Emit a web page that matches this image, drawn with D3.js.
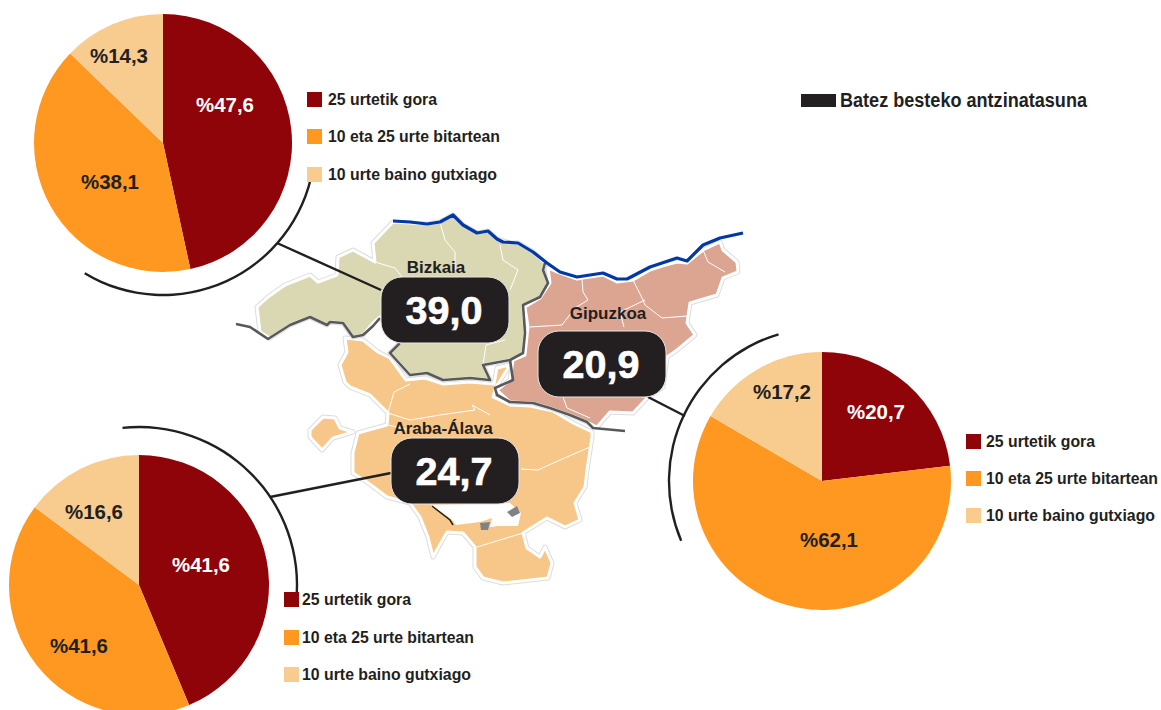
<!DOCTYPE html>
<html><head><meta charset="utf-8">
<script src="https://cdn.jsdelivr.net/npm/d3@7/dist/d3.min.js"></script>
<style>html,body{margin:0;background:#fff}svg{display:block}text{font-family:"Liberation Sans",Arial,sans-serif;font-weight:700}</style>
</head><body><svg id="c" width="1161" height="710"></svg>
<script>
const categories = ["25 urtetik gora","10 eta 25 urte bitartean","10 urte baino gutxiago"];
const provinces = ["Bizkaia","Gipuzkoa","Araba-Álava"];
const averages = [39.0,20.9,24.7];
// printed percentages
const bizkaiaLabels = [47.6,38.1,14.3];
const gipuzkoaLabels = [20.7,62.1,17.2];
const arabaLabels = [41.6,41.6,16.6];
// slice sizes as actually drawn in the picture (they differ a little from the printed numbers)
const bizkaiaDrawn = [46.6,40.6,12.8];
const gipuzkoaDrawn = [23.1,60.3,16.6];
const arabaDrawn = [43.7,41.5,14.8];
const legendTitle = "Batez besteko antzinatasuna";
const colors = ["#8f0409","#fe9820","#f8cb8e"];

// map outlines
const bizkaiaShape = [[393,222],[410,223],[427,224],[440,222],[453,215],[463,225],[477,233],[488,231],[497,239],[510,243],[518,243],[533,252],[545,263],[543,270],[548,283],[540,297],[523,305],[525,333],[523,353],[510,360],[483,365],[490,380],[470,378],[443,380],[427,373],[410,375],[390,353],[400,343],[380,317],[373,323],[363,335],[353,337],[343,323],[330,322],[327,325],[310,317],[290,325],[270,338],[260,332],[257,307],[268,297],[285,285],[310,275],[318,282],[337,275],[338,257],[353,250],[375,262],[373,243]];
const gipuzkoaShape = [[548,268],[560,273],[577,279],[603,275],[617,282],[633,280],[650,270],[662,266],[677,262],[687,263],[703,250],[720,242],[723,250],[737,262],[738,272],[723,278],[717,295],[700,300],[690,303],[687,323],[695,335],[677,350],[667,357],[663,387],[647,398],[633,413],[610,412],[597,427],[587,422],[570,415],[550,408],[533,403],[510,402],[497,390],[510,380],[513,360],[525,355],[528,327],[525,307],[540,298],[550,283]];
const arabaShape = [[345,338],[363,340],[378,352],[390,358],[406,380],[425,378],[443,384],[470,382],[494,384],[497,368],[510,365],[496,387],[493,397],[510,405],[530,406],[553,411],[573,423],[592,432],[592,437],[587,470],[585,487],[575,503],[580,520],[565,527],[547,518],[523,533],[527,548],[540,557],[545,547],[552,563],[548,578],[503,583],[483,578],[475,567],[475,547],[463,533],[447,532],[433,557],[428,537],[420,517],[410,503],[387,497],[367,482],[353,473],[353,453],[358,433],[387,425],[388,413],[370,395],[350,387],[345,382],[340,365],[347,352]];
const arabaIsland = [[323,417],[335,418],[340,428],[353,432],[333,438],[322,450],[310,437],[310,430]];
const cityHole = [[431,505],[450,518],[456,525],[480,522],[492,518],[490,527],[498,526],[518,526],[521,513],[510,503]];
const grayBits = [[[507,512],[517,506],[520,513],[512,517]],[[480,523],[490,522],[488,530],[481,530]]];
const innerLines = [
 [[440,222],[445,240],[455,252],[455,270]],[[375,262],[395,268],[412,290]],[[483,365],[486,345],[505,340]],[[500,245],[503,260],[518,270],[510,290]],
 [[582,279],[583,292],[588,300],[575,308],[562,325],[530,327]],[[633,280],[643,300],[645,305]],[[645,300],[620,312],[624,327]],[[645,305],[662,318],[687,316]],[[703,250],[708,262],[725,272]],[[563,397],[567,408],[590,418]],[[632,395],[650,398]],
 [[388,413],[394,392],[410,384]],[[388,413],[410,420],[440,415],[475,410],[472,405],[490,415]],[[521,469],[538,470],[560,460],[590,447]],[[477,547],[500,540],[523,533]],[[388,425],[410,430]]];
const coastLine = [[393,221],[410,222],[427,224],[440,222],[453,215],[463,225],[477,233],[488,231],[497,239],[503,242],[518,243],[533,252],[547,263],[560,272],[577,277],[603,273],[617,279],[627,279],[650,267],[662,263],[677,258],[687,261],[703,245],[720,238],[743,233]];
const borderLines = [
 [[236,324],[250,327],[268,339],[290,325],[310,317],[327,325],[330,322],[343,323],[353,337],[363,335],[373,326],[380,318]],
 [[400,343],[390,353],[410,375],[427,373],[443,380],[470,378],[490,380],[483,365],[510,360],[523,353],[525,333],[523,305],[540,297],[548,283],[543,270],[545,263]],
 [[510,360],[513,380],[495,388],[497,395],[510,402],[533,403],[550,408],[570,415],[587,422],[593,428],[625,431]]];
const leaders = [[[277,243],[381,290]],[[648,397],[685,416]],[[270,497],[391,473]]];

const svg = d3.select("#c");
const poly = d3.line().curve(d3.curveLinearClosed);
const open = d3.line();
function shape(pts,fill){
  svg.append("path").attr("d",poly(pts)).attr("fill","none").attr("stroke","#dcdcdc").attr("stroke-width",5).attr("stroke-linejoin","round");
  svg.append("path").attr("d",poly(pts)).attr("fill",fill).attr("stroke","#fff").attr("stroke-width",3).attr("stroke-linejoin","round");
}
shape(arabaShape,"#f6c788"); shape(arabaIsland,"#f6c788");
shape(bizkaiaShape,"#d9d8b2"); shape(gipuzkoaShape,"#dca592");
svg.append("path").attr("d",poly(cityHole)).attr("fill","#fff");
grayBits.forEach(g=>svg.append("path").attr("d",poly(g)).attr("fill","#808285"));
svg.append("path").attr("d",open([[432,506],[450,520],[453,525]])).attr("fill","none").attr("stroke","#231f20").attr("stroke-width",1.5);
innerLines.forEach(l=>svg.append("path").attr("d",open(l)).attr("fill","none").attr("stroke","#fff").attr("stroke-width",1));
borderLines.forEach(l=>svg.append("path").attr("d",open(l)).attr("fill","none").attr("stroke","#58595b").attr("stroke-width",2.6).attr("stroke-linejoin","round"));
svg.append("path").attr("d",open(coastLine)).attr("fill","none").attr("stroke","#0038a8").attr("stroke-width",3.2).attr("stroke-linejoin","round");

leaders.forEach(l=>svg.append("path").attr("d",open(l)).attr("stroke","#231f20").attr("stroke-width",2.4).attr("fill","none"));

// pies
const pie = d3.pie().sort(null).value(d=>d);
const deg = Math.PI/180;
const pies = [
 {v:bizkaiaDrawn,t:bizkaiaLabels,cx:163,cy:143,r:129,ring:[100,211],rr:152,lab:[[62,-38],[-53,39],[-44,-87]]},
 {v:gipuzkoaDrawn,t:gipuzkoaLabels,cx:822,cy:481,r:129,ring:[247,343.5],rr:153,lab:[[54,-69],[7,59],[-40,-89]]},
 {v:arabaDrawn,t:arabaLabels,cx:139,cy:585,r:130,ring:[-6,96],rr:158,lab:[[62,-20],[-60,61],[-45,-73]]}
];
pies.forEach(p=>{
  const g = svg.append("g").attr("transform",`translate(${p.cx},${p.cy})`);
  g.selectAll("path.s").data(pie(p.v)).join("path").attr("class","s")
    .attr("d",d3.arc().innerRadius(0).outerRadius(p.r)).attr("fill",(d,j)=>colors[j]);
  g.append("path").attr("d",d3.arc().innerRadius(p.rr-1.2).outerRadius(p.rr+1.2).startAngle(p.ring[0]*deg).endAngle(p.ring[1]*deg)()).attr("fill","#231f20");
  g.selectAll("text").data(p.t).join("text").attr("x",(d,j)=>p.lab[j][0]).attr("y",(d,j)=>p.lab[j][1]).attr("text-anchor","middle").attr("dominant-baseline","central")
    .attr("font-size",20).attr("textLength",58).attr("lengthAdjust","spacingAndGlyphs").attr("fill",(d,j)=>j===0?"#fff":"#231f20").text(d=>"%"+d.toFixed(1).replace(".",","));
});

// value boxes
const boxes = [[381,277],[538,331],[391,438]];
const labelPos = [[436,267],[608,313],[443,428]];
averages.forEach((v,i)=>{
  svg.append("rect").attr("x",boxes[i][0]).attr("y",boxes[i][1]).attr("width",128).attr("height",66).attr("rx",21)
    .attr("fill","#231f20").attr("stroke","#e6e6e6").attr("stroke-width",1);
  svg.append("text").attr("x",boxes[i][0]+63).attr("y",boxes[i][1]+33).attr("text-anchor","middle").attr("dominant-baseline","central")
    .attr("font-size",39.5).attr("fill","#fff").attr("stroke","#fff").attr("stroke-width",0.7).text(v.toFixed(1).replace(".",","));
  svg.append("text").attr("x",labelPos[i][0]).attr("y",labelPos[i][1]).attr("text-anchor","middle").attr("dominant-baseline","central")
    .attr("font-size",17).attr("fill","#231f20").text(provinces[i]);
});

// legends
const legends = [{x:307,tx:328,ys:[99,136,174]},{x:966,tx:986,ys:[441,478,515]},{x:284,tx:302,ys:[599,637,674]}];
legends.forEach(L=>categories.forEach((c,j)=>{
  svg.append("rect").attr("x",L.x).attr("y",L.ys[j]-7).attr("width",15).attr("height",15).attr("fill",colors[j]);
  svg.append("text").attr("x",L.tx).attr("y",L.ys[j]).attr("dominant-baseline","central").attr("font-size",15.7)
    .attr("textLength",c.length>20?(j===1?172:169):109).attr("lengthAdjust","spacingAndGlyphs").attr("fill","#231f20").text(c);
}));
svg.append("rect").attr("x",801).attr("y",94).attr("width",35).attr("height",13).attr("fill","#231f20");
svg.append("text").attr("x",840).attr("y",100).attr("dominant-baseline","central").attr("font-size",19.5)
  .attr("textLength",247).attr("lengthAdjust","spacingAndGlyphs").attr("fill","#231f20").text(legendTitle);
</script></body></html>
